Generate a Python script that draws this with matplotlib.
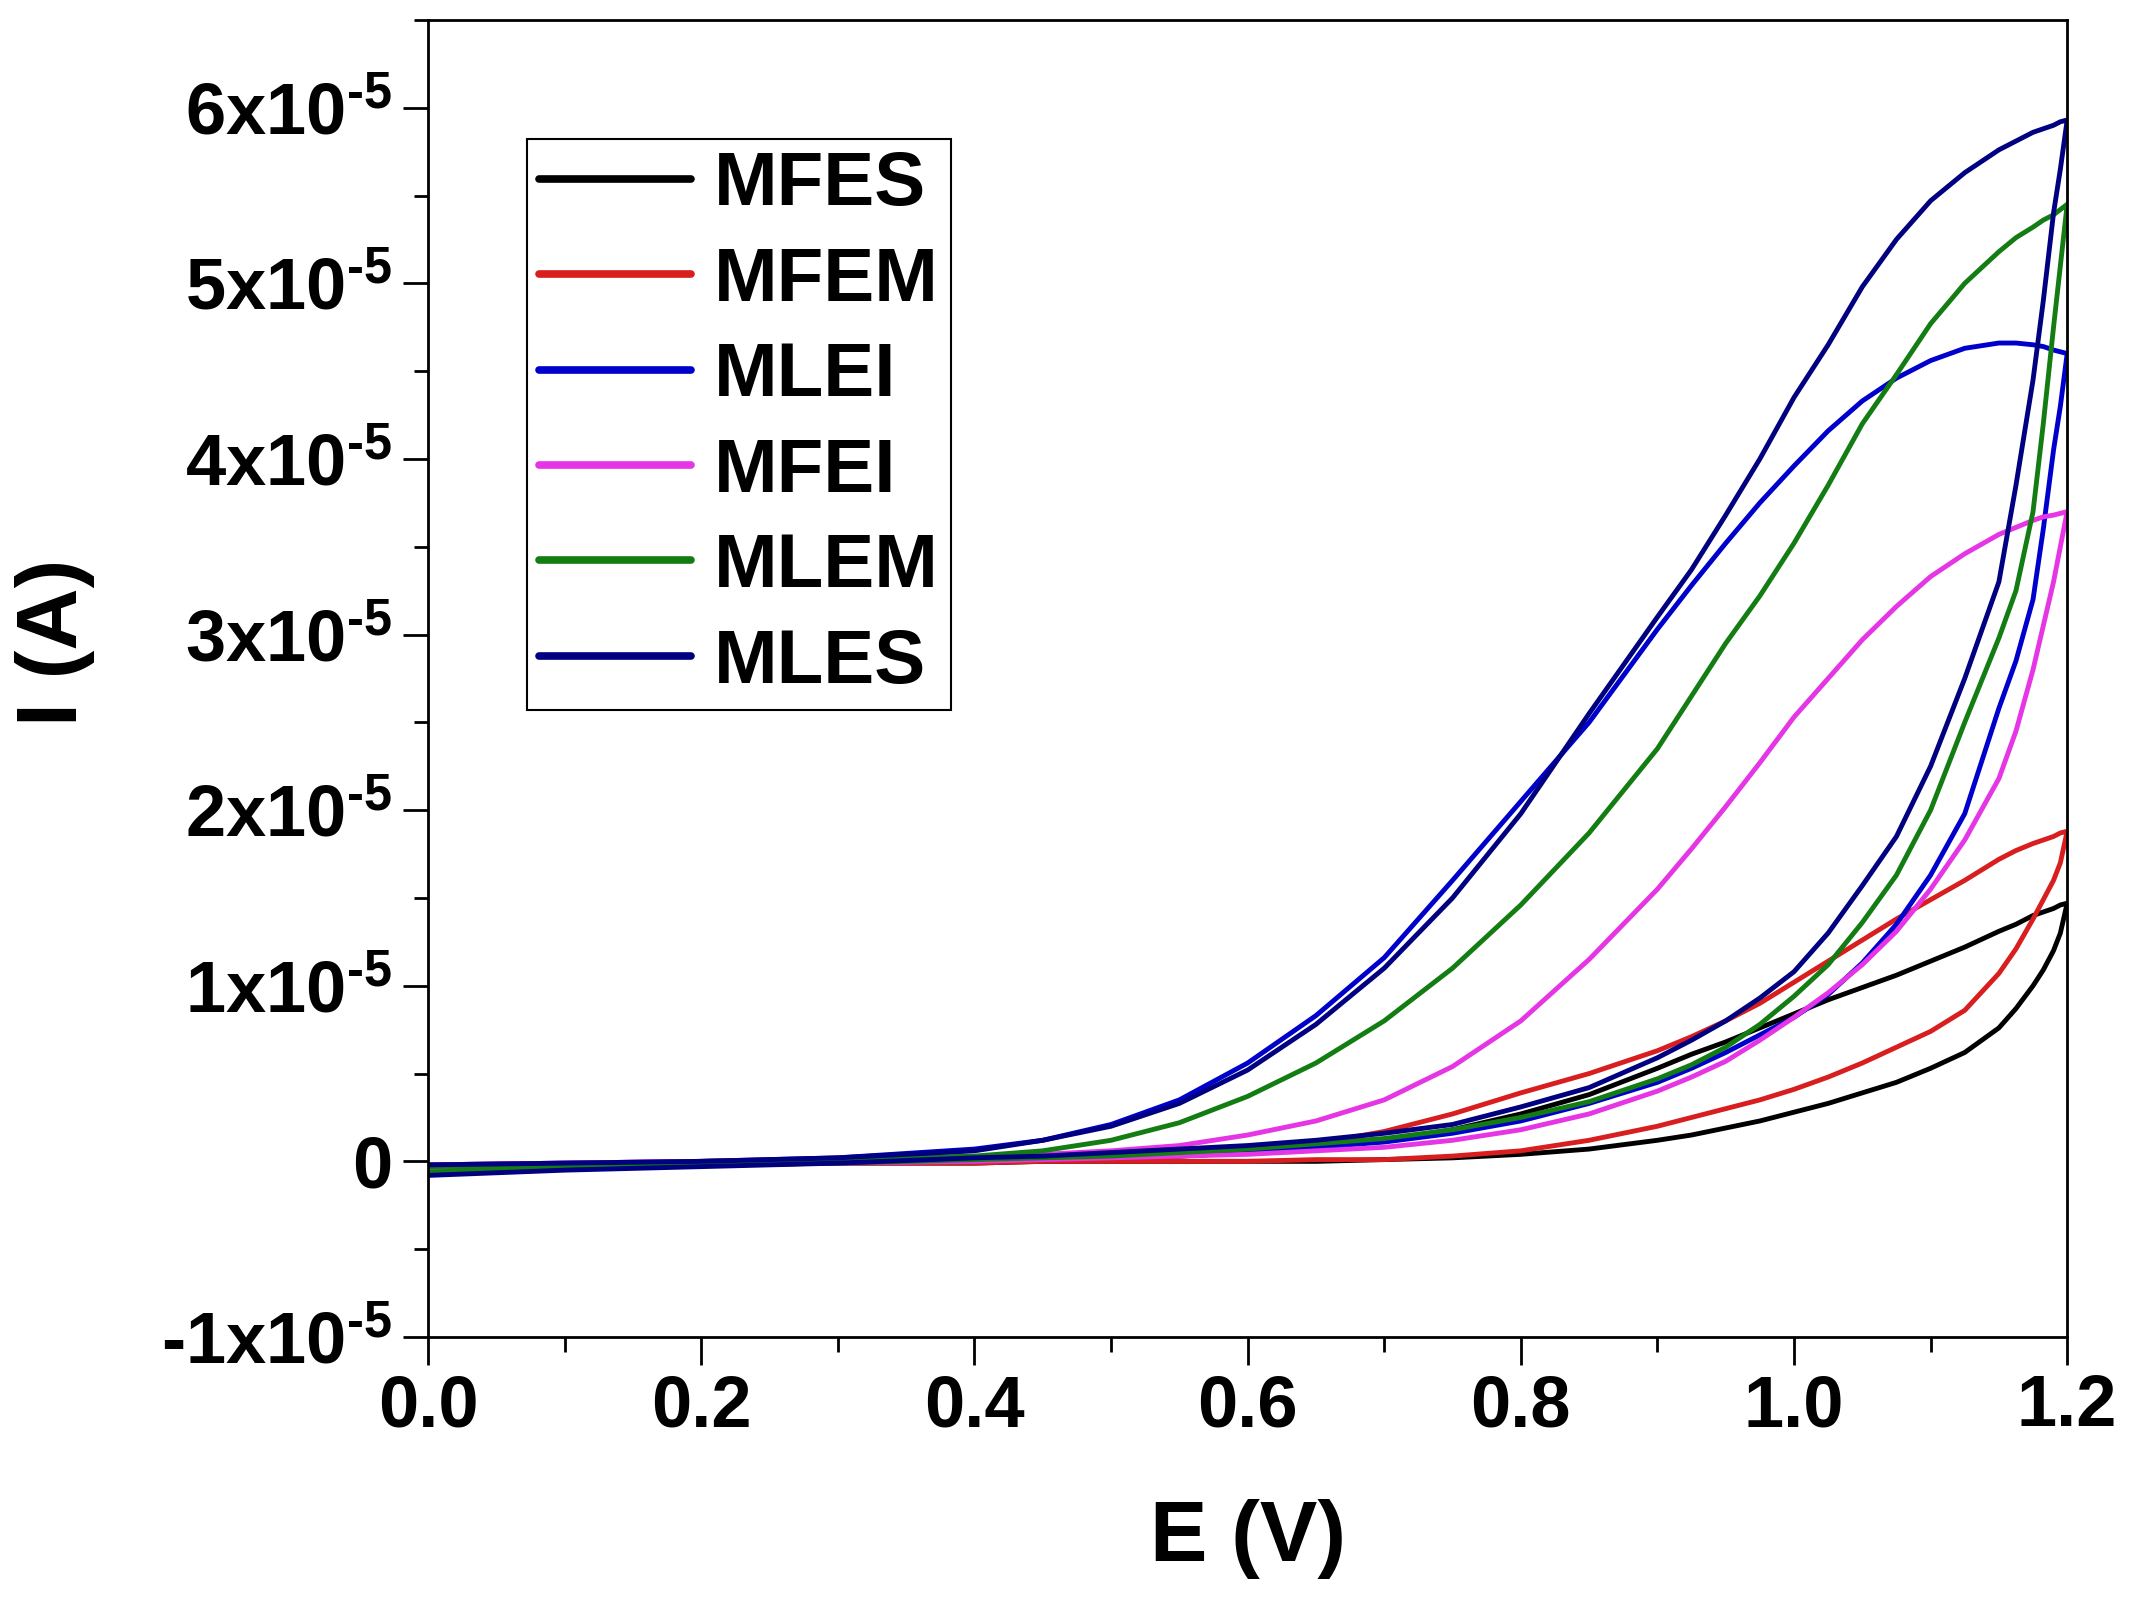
import matplotlib
matplotlib.use('Agg')
import matplotlib.pyplot as plt
from matplotlib.ticker import MultipleLocator, FuncFormatter

plt.rcParams['font.family'] = ['Liberation Sans', 'DejaVu Sans']
plt.rcParams['font.weight'] = 'bold'
plt.rcParams['mathtext.fontset'] = 'custom'
plt.rcParams['mathtext.rm'] = 'Liberation Sans:bold'
plt.rcParams['mathtext.bf'] = 'Liberation Sans:bold'
plt.rcParams['mathtext.it'] = 'Liberation Sans:bold'

# Potential grid (V), shared by every scan branch
E = [0.0, 0.1, 0.2, 0.3, 0.4, 0.45, 0.5, 0.55, 0.6, 0.65, 0.7, 0.75, 0.8, 0.85,
     0.9, 0.925, 0.95, 0.975, 1.0, 1.025, 1.05, 1.075, 1.1, 1.125, 1.15, 1.1625,
     1.175, 1.1825, 1.19, 1.195, 1.2]

# Currents in units of 1e-5 A: forward (anodic) scan and reverse scan
mfes_fwd = [-0.04, -0.03, -0.02, -0.01, -0.01, 0.0, 0.0, 0.0, 0.0, 0.0, 0.01, 0.02, 0.04, 0.07,
            0.12, 0.15, 0.19, 0.23, 0.28, 0.33, 0.39, 0.45, 0.53, 0.62, 0.76, 0.87,
            1.0, 1.09, 1.2, 1.3, 1.47]
mfes_rev = [-0.03, -0.02, -0.01, 0.0, 0.0, 0.01, 0.02, 0.03, 0.05, 0.08, 0.12, 0.18, 0.27, 0.38,
            0.53, 0.61, 0.68, 0.76, 0.84, 0.92, 0.99, 1.06, 1.14, 1.22, 1.31, 1.35,
            1.4, 1.42, 1.44, 1.46, 1.47]

mfem_fwd = [-0.03, -0.02, -0.02, -0.01, -0.01, 0.0, 0.0, 0.0, 0.0, 0.01, 0.01, 0.03, 0.06, 0.12,
            0.2, 0.25, 0.3, 0.35, 0.41, 0.48, 0.56, 0.65, 0.74, 0.86, 1.07, 1.21,
            1.38, 1.49, 1.6, 1.7, 1.88]
mfem_rev = [-0.03, -0.02, -0.01, 0.0, 0.01, 0.01, 0.02, 0.03, 0.05, 0.1, 0.17, 0.27, 0.39, 0.5,
            0.63, 0.71, 0.8, 0.9, 1.02, 1.14, 1.26, 1.38, 1.49, 1.6, 1.72, 1.77,
            1.81, 1.83, 1.85, 1.87, 1.88]

mlei_fwd = [-0.05, -0.03, -0.02, 0.0, 0.01, 0.02, 0.03, 0.04, 0.06, 0.08, 0.11, 0.16, 0.23, 0.33,
            0.45, 0.53, 0.62, 0.72, 0.82, 0.95, 1.13, 1.35, 1.63, 1.98, 2.58, 2.85,
            3.2, 3.6, 4.05, 4.3, 4.6]
mlei_rev = [-0.02, -0.01, 0.0, 0.02, 0.07, 0.12, 0.21, 0.35, 0.56, 0.83, 1.16, 1.6, 2.05, 2.5,
            3.03, 3.28, 3.52, 3.75, 3.96, 4.16, 4.33, 4.46, 4.56, 4.63, 4.66, 4.66,
            4.65, 4.64, 4.62, 4.61, 4.6]

mfei_fwd = [-0.04, -0.03, -0.02, -0.01, 0.0, 0.01, 0.02, 0.03, 0.04, 0.06, 0.08, 0.12, 0.18, 0.27,
            0.4, 0.48, 0.57, 0.69, 0.82, 0.96, 1.12, 1.31, 1.55, 1.83, 2.18, 2.45,
            2.8, 3.05, 3.3, 3.5, 3.7]
mfei_rev = [-0.02, -0.01, 0.0, 0.01, 0.02, 0.04, 0.06, 0.09, 0.15, 0.23, 0.35, 0.54, 0.8, 1.15,
            1.55, 1.78, 2.02, 2.27, 2.53, 2.75, 2.97, 3.16, 3.33, 3.46, 3.57, 3.61,
            3.65, 3.67, 3.68, 3.69, 3.7]

mlem_fwd = [-0.06, -0.04, -0.02, -0.01, 0.01, 0.02, 0.03, 0.05, 0.07, 0.1, 0.13, 0.18, 0.25, 0.34,
            0.47, 0.55, 0.65, 0.78, 0.94, 1.12, 1.36, 1.63, 2.0, 2.5, 2.98, 3.25,
            3.7, 4.2, 4.75, 5.1, 5.45]
mlem_rev = [-0.03, -0.02, 0.0, 0.01, 0.03, 0.06, 0.12, 0.22, 0.37, 0.56, 0.8, 1.1, 1.46, 1.87,
            2.35, 2.65, 2.95, 3.22, 3.52, 3.85, 4.2, 4.48, 4.77, 5.0, 5.18, 5.26,
            5.32, 5.36, 5.39, 5.42, 5.45]

mles_fwd = [-0.08, -0.05, -0.03, -0.01, 0.02, 0.03, 0.05, 0.07, 0.09, 0.12, 0.16, 0.21, 0.31, 0.42,
            0.59, 0.69, 0.8, 0.93, 1.08, 1.3, 1.57, 1.85, 2.25, 2.75, 3.3, 3.85,
            4.45, 4.9, 5.4, 5.65, 5.93]
mles_rev = [-0.02, -0.01, 0.0, 0.02, 0.06, 0.12, 0.2, 0.33, 0.52, 0.78, 1.1, 1.5, 1.98, 2.55,
            3.1, 3.37, 3.68, 4.0, 4.35, 4.65, 4.98, 5.25, 5.47, 5.63, 5.76, 5.81,
            5.86, 5.88, 5.9, 5.92, 5.93]

labels = ['MFES', 'MFEM', 'MLEI', 'MFEI', 'MLEM', 'MLES']
colors = ['#000000', '#d81e1e', '#0000cd', '#e535e5', '#137d13', '#000080']
series = [(mfes_fwd, mfes_rev), (mfem_fwd, mfem_rev), (mlei_fwd, mlei_rev),
          (mfei_fwd, mfei_rev), (mlem_fwd, mlem_rev), (mles_fwd, mles_rev)]

SCALE = 1e-5

fig = plt.figure(figsize=(21.32, 16.05), dpi=100)
ax = fig.add_axes([0.2008, 0.167, 0.7688, 0.8206])

for lab, col, (fwd, rev) in zip(labels, colors, series):
    xs = E + E[::-1]
    ys = [v * SCALE for v in fwd + rev[::-1]]
    ax.plot(xs, ys, color=col, lw=3.5, label=lab, solid_capstyle='round',
            solid_joinstyle='round')

ax.set_xlim(0, 1.2)
ax.set_ylim(-1e-5, 6.5e-5)

ax.xaxis.set_major_locator(MultipleLocator(0.2))
ax.xaxis.set_minor_locator(MultipleLocator(0.1))
ax.yaxis.set_major_locator(MultipleLocator(1e-5))
ax.yaxis.set_minor_locator(MultipleLocator(0.5e-5))
ax.xaxis.set_major_formatter(FuncFormatter(lambda v, p: f'{v:.1f}'))


def y_label(v, pos):
    n = int(round(v / SCALE))
    if n == 0:
        return '0'
    return rf'$\text{{{n}x10}}^{{\text{{-5}}}}$'


ax.yaxis.set_major_formatter(FuncFormatter(y_label))

ax.tick_params(which='both', direction='out', width=2, top=False, right=False)
ax.tick_params(axis='x', which='major', length=20, pad=6, labelsize=52)
ax.tick_params(axis='x', which='minor', length=11)
ax.tick_params(axis='y', which='major', length=18, pad=8, labelsize=52)
ax.tick_params(axis='y', which='minor', length=10)
for t in ax.get_xticklabels() + ax.get_yticklabels():
    t.set_fontweight('bold')
for sp in ax.spines.values():
    sp.set_linewidth(2)

ax.set_xlabel('E (V)', fontsize=62, fontweight='bold', labelpad=42)
ax.set_ylabel('I (A)', fontsize=62, fontweight='bold')
ax.yaxis.set_label_coords(-0.203, 0.527)

leg = ax.legend(loc='upper left', bbox_to_anchor=(0.0604, 0.9096), borderaxespad=0,
                fontsize=55, frameon=True, fancybox=False, framealpha=1,
                edgecolor='black', handlelength=2.0, handletextpad=0.3,
                labelspacing=0.32, borderpad=0.15)
leg.get_frame().set_linewidth(1.5)
for h in leg.get_lines():
    h.set_linewidth(5.5)
for t in leg.get_texts():
    t.set_fontweight('bold')

fig.savefig('out.png', dpi=100)
